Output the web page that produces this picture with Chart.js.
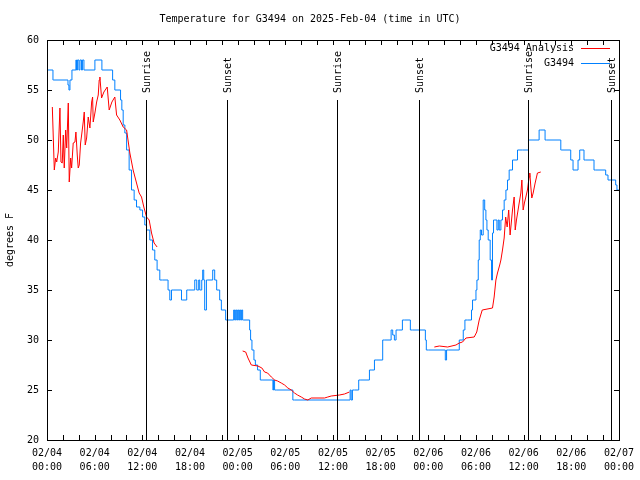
<!DOCTYPE html>
<html>
<head>
<meta charset="utf-8">
<script src="https://cdn.jsdelivr.net/npm/chart.js@4"></script>
<style>
  body { margin: 0; background: #fff; }
</style>
</head>
<body>
<canvas id="tempChart" width="640" height="480"></canvas>
<script>
// hours after 02/04 00:00 UTC
const blueHours = [0.13, 0.75, 0.82, 2.64, 2.76, 2.89, 3.14, 3.27, 3.64, 3.71, 3.83, 4.02, 4.15, 4.34, 4.46, 4.65, 4.78,
    6.03, 6.16, 6.91, 7.04, 8.26, 8.54, 9.26, 9.42, 9.59, 9.80, 10.02, 10.34, 10.64, 10.97, 11.27, 11.69, 12.03,
    12.31, 12.53, 12.94, 13.28, 13.57, 13.86, 14.20, 14.54, 15.24, 15.46, 15.67, 15.87, 16.93, 17.09, 17.59, 17.84,
    18.60, 18.85, 19.10, 19.23, 19.48, 19.60, 19.73, 19.85, 20.07, 20.23, 20.86, 21.11, 21.36, 21.74, 21.95, 22.15,
    22.49, 22.74, 23.50, 23.62, 23.75, 23.88, 24.00, 24.13, 24.25, 24.38, 24.50, 24.63, 24.75, 25.51, 25.63, 25.80,
    26.05, 26.23, 26.51, 26.85, 27.18, 28.44, 28.52, 28.65, 28.86, 30.95, 31.16, 38.16, 38.29, 38.45, 38.70, 39.24,
    39.42, 40.59, 40.80, 41.22, 41.43, 42.26, 42.47, 43.32, 43.52, 43.73, 43.94, 44.27, 44.74, 44.99, 45.74, 45.99,
    47.63, 47.75, 48.04, 50.14, 50.30, 50.52, 51.90, 51.99, 52.40, 52.61, 52.94, 53.44, 53.57, 54.00, 54.12, 54.29,
    54.41, 54.54, 54.70, 54.91, 55.10, 55.25, 55.38, 55.54, 55.79, 55.96, 56.08, 56.21, 56.38, 56.64, 56.80, 56.93,
    57.14, 57.34, 57.55, 57.77, 57.97, 58.18, 58.60, 59.23, 59.85, 60.61, 60.78, 61.95, 62.16, 62.70, 62.87, 64.68,
    64.80, 65.93, 66.22, 66.60, 66.85, 67.06, 67.60, 67.82, 68.86, 69.07, 70.33, 70.62, 70.96, 71.59, 71.75, 72.00];
const blueTemps = [57, 57, 56, 56, 55.5, 55, 56, 57, 57, 58, 57, 58, 57, 58, 57, 58, 57,
    57, 58, 58, 57, 57, 56, 55, 54, 53, 51.5, 50.7, 49, 47, 45, 44, 43.3, 43,
    42.3, 41.5, 41, 40, 39, 38, 37, 36, 36, 35, 34, 35, 35, 34, 34, 35,
    35, 36, 35, 36, 35, 36, 37, 36, 33, 36, 36, 37, 36, 35, 34, 33,
    33, 32, 32, 33, 32, 33, 32, 33, 32, 33, 32, 33, 32, 32, 31, 30,
    29, 28, 27.5, 27, 26, 26, 25, 26, 25, 25, 24, 24, 25, 24, 25, 25,
    26, 26, 27, 27, 28, 28, 30, 30, 31, 30.5, 30, 31, 31, 32, 32, 31,
    31, 30, 29, 29, 28, 29, 29, 30, 30, 31, 32, 32, 33, 34, 35, 36,
    38, 40, 41, 40.5, 44, 43, 42, 41, 40, 38, 36, 40.7, 42, 42, 41, 42,
    41, 42, 43, 44, 45, 46, 47, 48, 49, 49, 50, 50, 51, 51, 50, 50,
    49, 49, 48, 47, 47, 48, 49, 48, 48, 47, 47, 46.5, 46, 46, 45.5, 45];

const redHours = [0.67, 0.84, 0.92, 1.09, 1.22, 1.42, 1.63, 1.76, 1.92, 2.05, 2.17, 2.35, 2.48, 2.68, 2.80, 2.98,
    3.10, 3.30, 3.52, 3.64, 3.81, 3.93, 4.06, 4.23, 4.36, 4.56, 4.69, 4.81, 4.99, 5.19, 5.40, 5.62, 5.74, 5.82,
    6.03, 6.25, 6.45, 6.57, 6.66, 6.87, 7.16, 7.58, 7.83, 8.17, 8.54, 8.76, 9.17, 9.59, 10.02, 10.43, 10.84,
    11.27, 11.60, 11.90, 12.19, 12.53, 12.86, 13.16, 13.48, 13.86,
    20,
    24.63, 25.01, 25.30, 25.72, 26.55, 27.05, 27.39, 27.77, 28.24, 28.65, 29.03, 29.49, 29.91, 30.32, 30.75, 31.16,
    31.54, 32.01, 32.42, 32.84, 33.26, 34.94, 35.35, 35.78, 36.82, 37.45, 38.07,
    42,
    48.76, 49.39, 50.43, 51.48, 51.90, 52.31, 52.74, 53.78, 54.10, 54.41, 54.79, 56.08, 56.29, 56.51, 56.71, 56.99,
    57.14, 57.34, 57.55, 57.74, 57.93, 58.12, 58.30, 58.60, 58.81, 58.94, 59.10, 59.44, 59.65, 59.78, 59.94, 60.10,
    60.28, 60.48, 60.69, 60.78, 60.91, 61.03, 61.20, 61.45, 61.74, 62.16];
const redTemps = [53.3, 49, 47, 48.2, 47.8, 48.8, 53.2, 47.8, 47.7, 50.5, 47.2, 51, 49.2, 53.7, 45.8, 48.2,
    47.2, 49.7, 49.8, 50.8, 48.5, 47.2, 47.5, 49.7, 50.5, 51.8, 52.8, 49.5, 50.2, 52.3, 51.2, 53.8, 54.3, 51.8,
    52.7, 53.8, 54.5, 56, 56.3, 54.2, 54.8, 55.3, 53, 53.8, 54.3, 52.5, 52, 51.3, 51, 48.7, 47,
    45.7, 44.7, 44.3, 43.3, 42.3, 42, 40.7, 39.7, 39.3,
    null,
    28.9, 28.8, 28.2, 27.5, 27.4, 27.2, 26.8, 26.7, 26.3, 26, 25.9, 25.7, 25.5, 25.2, 25, 24.7,
    24.5, 24.3, 24.1, 24, 24.2, 24.2, 24.3, 24.4, 24.5, 24.6, 24.8,
    null,
    29.3, 29.4, 29.3, 29.5, 29.7, 29.8, 30.2, 30.3, 30.8, 32, 33, 33.2, 34.3, 36, 36.7, 37.5,
    38, 39, 40.2, 42.3, 41.3, 43, 40.5, 43, 44.3, 41, 42, 43.7, 44.7, 46, 43, 43.7,
    44.3, 45, 46.3, 46.7, 45.3, 44.2, 44.7, 45.7, 46.7, 46.8];

const sunriseHours = [12.48, 36.47, 60.6];
const sunsetHours = [22.66, 46.78, 70.96];
const dayLabels = ['02/04', '02/05', '02/06', '02/07'];
const hourLabels = ['00:00', '06:00', '12:00', '18:00'];
const seriesNames = ['G3494 Analysis', 'G3494'];

const FONT = 'DejaVu Sans Mono';
const redColor = '#ff0000';
const blueColor = '#0080ff';
const keyColors = [redColor, blueColor];

// box, inward tics, sun lines and the key, gnuplot style
const gnuplotBits = {
    id: 'gnuplotBits',
    afterDatasetsDraw(chart) {
        const ctx = chart.ctx;
        const area = chart.chartArea;
        const xs = chart.scales.x;
        const ys = chart.scales.y;
        const L = Math.round(area.left), R = Math.round(area.right);
        const T = Math.round(area.top), B = Math.round(area.bottom);
        ctx.save();
        ctx.fillStyle = '#000';

        xs.ticks.forEach(t => {
            const px = Math.round(xs.getPixelForValue(t.value));
            ctx.fillRect(px, B - 5, 1, 5);
            ctx.fillRect(px, T, 1, 5);
        });
        ys.ticks.forEach(t => {
            const py = Math.round(ys.getPixelForValue(t.value));
            ctx.fillRect(L, py, 5, 1);
            ctx.fillRect(R - 5, py, 5, 1);
        });

        ctx.font = '10px "' + FONT + '"';
        const sunLine = (h, label) => {
            const px = Math.round(xs.getPixelForValue(h));
            ctx.fillStyle = '#000';
            ctx.fillRect(px, T + 60, 1, B - T - 60);
            ctx.save();
            ctx.translate(px + 1, T + 53);
            ctx.rotate(-Math.PI / 2);
            ctx.textAlign = 'left';
            ctx.textBaseline = 'middle';
            ctx.fillText(label, 0, 0);
            ctx.restore();
        };
        sunriseHours.forEach(h => sunLine(h, 'Sunrise'));
        sunsetHours.forEach(h => sunLine(h, 'Sunset'));

        // key
        for (let i = 0; i < seriesNames.length; i++) {
            const y = T + 8 + i * 15;
            ctx.textAlign = 'right';
            ctx.textBaseline = 'middle';
            ctx.fillStyle = '#000';
            ctx.fillText(seriesNames[i], 574, y);
            ctx.fillStyle = keyColors[i];
            ctx.fillRect(581, y, 29, 1);
        }

        ctx.fillStyle = '#000';
        ctx.fillRect(L, T, R - L + 1, 1);
        ctx.fillRect(L, B, R - L + 1, 1);
        ctx.fillRect(L, T, 1, B - T);
        ctx.fillRect(R, T, 1, B - T);
        ctx.restore();
    }
};

const ctx = document.getElementById('tempChart').getContext('2d');
new Chart(ctx, {
    type: 'line',
    data: {
        datasets: [{
            label: seriesNames[0],
            data: redHours.map((h, i) => ({ x: h, y: redTemps[i] })),
            borderColor: redColor,
            borderWidth: 1,
            pointRadius: 0,
            spanGaps: false
        }, {
            label: seriesNames[1],
            data: blueHours.map((h, i) => ({ x: h, y: blueTemps[i] })),
            borderColor: blueColor,
            borderWidth: 1,
            pointRadius: 0,
            stepped: 'after'
        }]
    },
    options: {
        responsive: false,
        animation: false,
        layout: { padding: { left: 0, right: 20, top: 0, bottom: 0 } },
        plugins: {
            legend: { display: false },
            tooltip: { enabled: false },
            title: {
                display: true,
                text: 'Temperature for G3494 on 2025-Feb-04 (time in UTC)',
                color: '#000',
                font: { family: FONT, size: 10, weight: 'normal' },
                padding: { top: 13, bottom: 15 }
            }
        },
        scales: {
            x: {
                type: 'linear',
                min: 0,
                max: 72,
                grid: { display: false, drawTicks: false },
                border: { display: false },
                afterFit: s => { s.height = 40; },
                ticks: {
                    stepSize: 2,
                    autoSkip: false,
                    maxRotation: 0,
                    padding: 6,
                    color: '#000',
                    font: { family: FONT, size: 10, lineHeight: 1.4 },
                    callback: v => {
                        if (v % 6 !== 0) return '';
                        return [dayLabels[Math.floor(v / 24)], hourLabels[(v % 24) / 6]];
                    }
                }
            },
            y: {
                min: 20,
                max: 60,
                grid: { display: false, drawTicks: false },
                border: { display: false },
                afterFit: s => { s.width = 47; },
                title: {
                    display: true,
                    text: 'degrees F',
                    color: '#000',
                    font: { family: FONT, size: 10 }
                },
                ticks: {
                    stepSize: 5,
                    padding: 8,
                    color: '#000',
                    font: { family: FONT, size: 10 }
                }
            }
        }
    },
    plugins: [gnuplotBits]
});
</script>
</body>
</html>
